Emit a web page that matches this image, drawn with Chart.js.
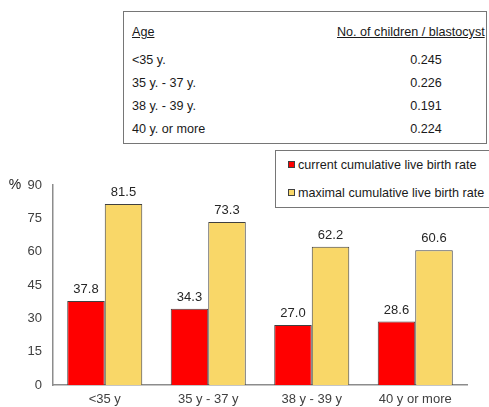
<!DOCTYPE html>
<html>
<head>
<meta charset="utf-8">
<script src="https://cdn.jsdelivr.net/npm/chart.js@4.4.0/dist/chart.umd.min.js"></script>
<style>
body { margin: 0; background: #fff; font-family: "Liberation Sans", Arial, sans-serif; }
#wrap { position: relative; width: 489px; height: 407px; overflow: hidden; }
#chart-area { position: absolute; left: 0; top: 0; }
.box { position: absolute; border: 1px solid #767676; background: #fff; font-size: 12.6px; color: #1a1a1a; }
#age-table { left: 123px; top: 11px; width: 362px; height: 131px; }
#age-table div { position: absolute; line-height: 16px; white-space: nowrap; }
#age-table .head { text-decoration: underline; }
#legend-box { left: 275px; top: 150px; width: 240px; height: 56px; }
#legend-box div { position: absolute; left: 12px; line-height: 16px; white-space: nowrap; }
#legend-box span.sq { display: inline-block; width: 5px; height: 5px; border: 1px solid #404040; margin-right: 3px; vertical-align: 1px; }
</style>
</head>
<body>
<div id="wrap">
  <canvas id="chart-area" width="489" height="407"></canvas>
  <div id="age-table" class="box"></div>
  <div id="legend-box" class="box"></div>
</div>
<script>
// age groups and results
var ageGroups = ['<35 y', '35 y - 37 y', '38 y - 39 y', '40 y or more'];
var currentRate = [37.8, 34.3, 27.0, 28.6];
var maximalRate = [81.5, 73.3, 62.2, 60.6];
var tableAges = ['<35 y.', '35 y. - 37 y.', '38 y. - 39 y.', '40 y. or more'];
var childrenPerBlastocyst = ['0.245', '0.226', '0.191', '0.224'];
var yTicks = [0, 15, 30, 45, 60, 75, 90];

// table above the chart
(function() {
	var t = document.getElementById('age-table');
	var add = function(text, cls, top, left, width) {
		var d = document.createElement('div');
		d.textContent = text;
		if (cls) d.className = cls;
		d.style.top = top + 'px';
		d.style.left = left + 'px';
		if (width) { d.style.width = width + 'px'; d.style.textAlign = 'center'; }
		t.appendChild(d);
	};
	add('Age', 'head', 12, 8);
	add('No. of children / blastocyst', 'head', 12, 213);
	for (var i = 0; i < tableAges.length; i++) {
		add(tableAges[i], '', 40 + i * 23, 8);
		add(childrenPerBlastocyst[i], '', 40 + i * 23, 272, 60);
	}
})();

// values above bars
var valueLabels = {
	id: 'valueLabels',
	afterDatasetsDraw: function(chart) {
		var ctx = chart.ctx;
		ctx.save();
		ctx.font = '13px "Liberation Sans", Arial, sans-serif';
		ctx.fillStyle = '#262626';
		ctx.textAlign = 'center';
		ctx.textBaseline = 'bottom';
		chart.data.datasets.forEach(function(ds, i) {
			chart.getDatasetMeta(i).data.forEach(function(bar, j) {
				ctx.fillText(ds.data[j].toFixed(1), bar.x, bar.y - 5);
			});
		});
		ctx.restore();
	}
};

// "%" unit next to the top tick
var unitLabel = {
	id: 'unitLabel',
	afterDraw: function(chart) {
		var ctx = chart.ctx;
		ctx.save();
		ctx.font = '14px "Liberation Sans", Arial, sans-serif';
		ctx.fillStyle = '#1a1a1a';
		ctx.textAlign = 'center';
		ctx.textBaseline = 'middle';
		ctx.fillText('%', 15, chart.scales.y.getPixelForValue(90));
		ctx.restore();
	}
};

// legend drawn into its own box
var htmlLegend = {
	id: 'htmlLegend',
	afterUpdate: function(chart) {
		var box = document.getElementById('legend-box');
		box.innerHTML = '';
		var items = chart.options.plugins.legend.labels.generateLabels(chart);
		items.forEach(function(item, i) {
			var row = document.createElement('div');
			row.style.top = (6 + i * 28) + 'px';
			var sq = document.createElement('span');
			sq.className = 'sq';
			sq.style.background = item.fillStyle;
			row.appendChild(sq);
			row.appendChild(document.createTextNode(item.text));
			box.appendChild(row);
		});
	}
};

var ctx = document.getElementById('chart-area').getContext('2d');
window.myBar = new Chart(ctx, {
	type: 'bar',
	data: {
		labels: ageGroups,
		datasets: [{
			label: 'current cumulative live birth rate',
			data: currentRate,
			backgroundColor: '#ff0000',
			borderColor: '#404040',
			borderWidth: 1,
			borderSkipped: 'bottom'
		}, {
			label: 'maximal cumulative live birth rate',
			data: maximalRate,
			backgroundColor: '#f9d768',
			borderColor: '#404040',
			borderWidth: 1,
			borderSkipped: 'bottom'
		}]
	},
	options: {
		responsive: false,
		animation: false,
		layout: { padding: { top: 185, right: 22, left: 0, bottom: 0 } },
		datasets: { bar: { categoryPercentage: 0.725, barPercentage: 1 } },
		plugins: {
			legend: { display: false },
			tooltip: { enabled: false }
		},
		scales: {
			x: {
				grid: { display: false, drawTicks: false },
				border: { color: '#8c8c8c', width: 1.5 },
				ticks: { color: '#404040', padding: 7, font: { size: 13, family: '"Liberation Sans", Arial, sans-serif' } },
				afterFit: function(scale) { scale.height = 22; }
			},
			y: {
				min: 0,
				max: 90,
				afterBuildTicks: function(scale) {
					scale.ticks = yTicks.map(function(v) { return { value: v }; });
				},
				grid: { display: false, drawTicks: false },
				border: { color: '#8c8c8c', width: 1.5 },
				ticks: { color: '#404040', padding: 11, font: { size: 13, family: '"Liberation Sans", Arial, sans-serif' } },
				afterFit: function(scale) { scale.width = 53; }
			}
		}
	},
	plugins: [valueLabels, unitLabel, htmlLegend]
});
</script>
</body>
</html>
